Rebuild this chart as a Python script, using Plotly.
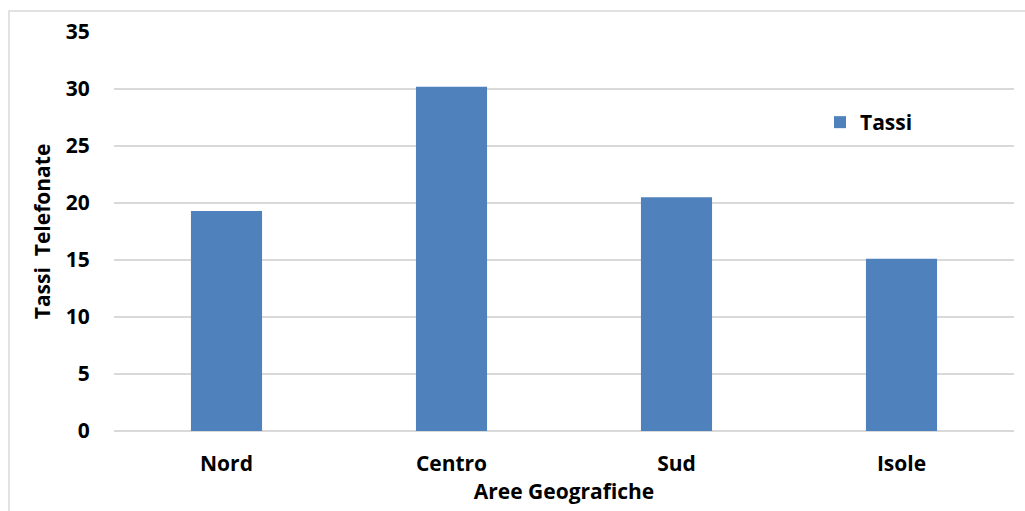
import plotly.graph_objects as go

# Tassi di telefonate per area geografica
aree = ["Nord", "Centro", "Sud", "Isole"]
tassi = [19.3, 30.2, 20.5, 15.1]
y_ticks = [0, 5, 10, 15, 20, 25, 30, 35]

FONT = "Open Sans"
BAR = "#4f81bd"
GRID = "#d9d9d9"

fig = go.Figure()
fig.add_trace(go.Bar(
    x=aree, y=tassi, name="<b>Tassi</b>",
    marker=dict(color=BAR, line=dict(width=0)),
    width=0.316,
))

L, R, T, B = 114, 11, 32, 80
W, H = 1025, 511
pw, ph = W - L - R, H - T - B

fig.update_layout(
    width=W, height=H,
    margin=dict(l=L, r=R, t=T, b=B, pad=0),
    paper_bgcolor="white", plot_bgcolor="white",
    font=dict(family=FONT, size=21, color="black"),
    showlegend=True,
    legend=dict(
        x=(820 - L) / pw, y=1 - (102 - T) / ph, xanchor="left", yanchor="top",
        font=dict(family=FONT, size=21, color="black"),
        bgcolor="rgba(0,0,0,0)", itemwidth=30,
    ),
    xaxis=dict(
        showgrid=False, showline=False, zeroline=False,
        ticks="outside", ticklen=14, tickcolor="rgba(0,0,0,0)",
        tickfont=dict(family=FONT, size=21, color="black", weight="bold"),
        title=dict(text="<b>Aree Geografiche</b>", standoff=6,
                   font=dict(family=FONT, size=21, color="black")),
    ),
    yaxis=dict(
        range=[0, 35], tickvals=y_ticks,
        showgrid=True, gridcolor=GRID, gridwidth=1.5,
        zeroline=True, zerolinecolor=GRID, zerolinewidth=1.5,
        showline=False,
        ticks="outside", ticklen=19, tickcolor="rgba(0,0,0,0)",
        tickfont=dict(family=FONT, size=21, color="black", weight="bold"),
        title=dict(text="<b>Tassi  Telefonate</b>", standoff=9,
                   font=dict(family=FONT, size=21, color="black")),
    ),
    shapes=[dict(
        type="rect", xref="paper", yref="paper",
        x0=(9 - L) / pw, x1=(1040 - L) / pw,
        y0=1 - (530 - T) / ph, y1=1 + (T - 11) / ph,
        line=dict(color="#d9d9d9", width=1.5), fillcolor="rgba(0,0,0,0)",
        layer="below",
    )],
)

fig.write_html("out.html")
